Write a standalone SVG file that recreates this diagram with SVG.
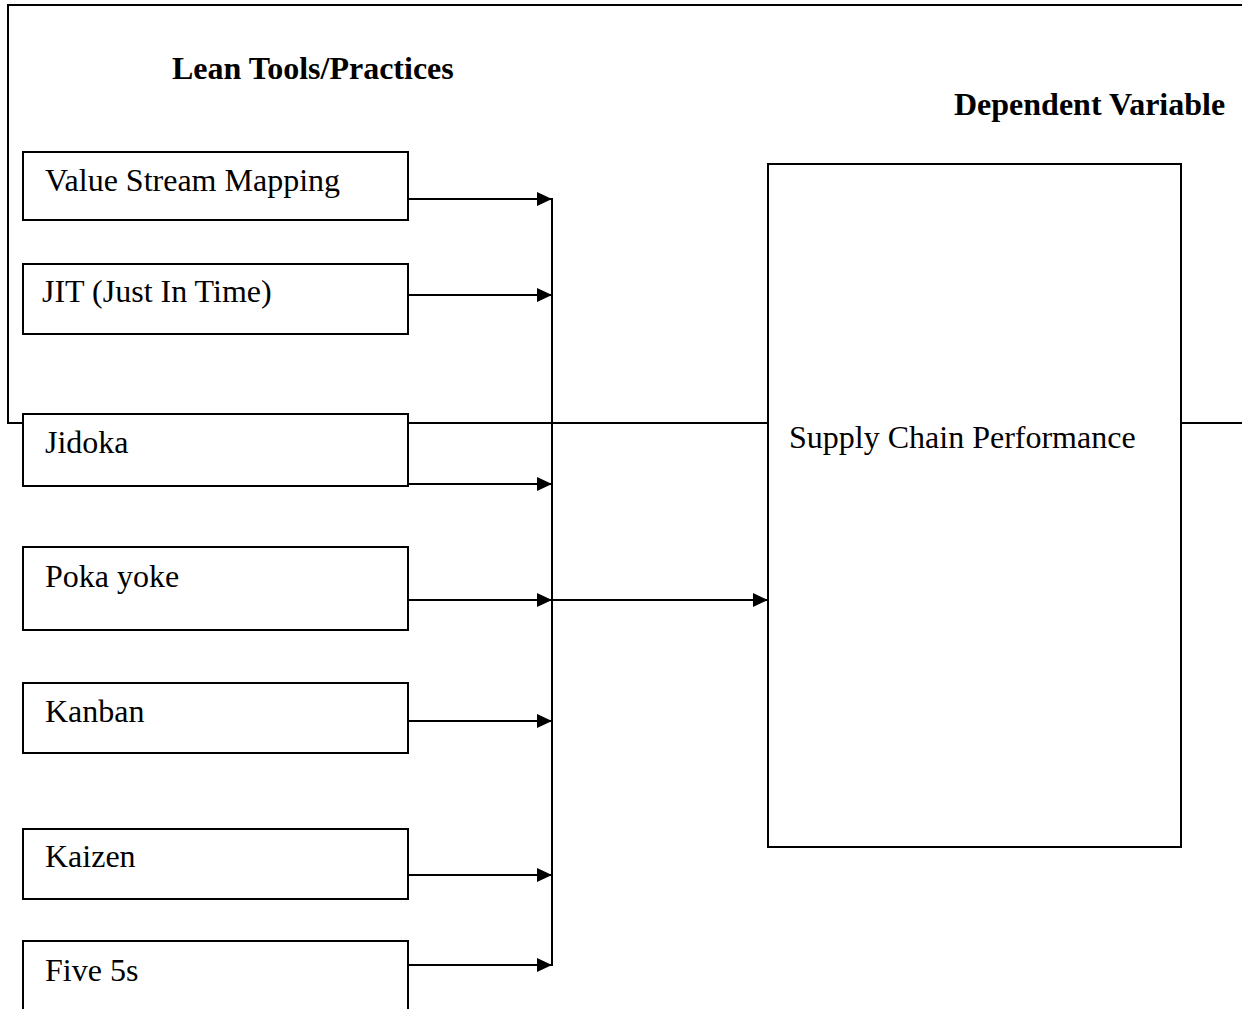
<svg xmlns="http://www.w3.org/2000/svg" width="1242" height="1009" viewBox="0 0 1242 1009">
  <style>
    .box { fill: #ffffff; stroke: #000000; stroke-width: 2; }
    .lbl { font-family: "Liberation Serif", "Times New Roman", serif; font-size: 32px; fill: #000000; }
    .hdr { font-family: "Liberation Serif", "Times New Roman", serif; font-size: 32px; font-weight: bold; fill: #000000; }
    .conn { stroke: #000000; stroke-width: 2; fill: none; }
    .arr { marker-end: url(#ah); }
  </style>
  <defs>
    <marker id="ah" markerUnits="userSpaceOnUse" markerWidth="16" markerHeight="14" refX="15" refY="7" orient="auto">
      <path d="M0,0 L15,7 L0,14 z" fill="#000000"/>
    </marker>
  </defs>
  <rect x="0" y="0" width="1242" height="1009" fill="#ffffff"/>

  <g id="frame">
    <path class="conn" d="M1242,5 H8 V423 H1242"/>
  </g>

  <g id="headers">
    <text class="hdr" x="172" y="79">Lean Tools/Practices</text>
    <text class="hdr" x="954" y="115">Dependent Variable</text>
  </g>

  <g id="connectors">
    <line class="conn" x1="552" y1="198" x2="552" y2="966"/>
    <line class="conn arr" x1="408" y1="199" x2="552" y2="199"/>
    <line class="conn arr" x1="408" y1="295" x2="552" y2="295"/>
    <line class="conn arr" x1="408" y1="484" x2="552" y2="484"/>
    <line class="conn arr" x1="408" y1="600" x2="552" y2="600"/>
    <line class="conn arr" x1="408" y1="721" x2="552" y2="721"/>
    <line class="conn arr" x1="408" y1="875" x2="552" y2="875"/>
    <line class="conn arr" x1="408" y1="965" x2="552" y2="965"/>
    <line class="conn arr" x1="552" y1="600" x2="768" y2="600"/>
  </g>

  <g id="node-vsm">
    <rect class="box" x="23" y="152" width="385" height="68"/>
    <text class="lbl" x="45" y="191">Value Stream Mapping</text>
  </g>
  <g id="node-jit">
    <rect class="box" x="23" y="264" width="385" height="70"/>
    <text class="lbl" x="42" y="302">JIT (Just In Time)</text>
  </g>
  <g id="node-jidoka">
    <rect class="box" x="23" y="414" width="385" height="72"/>
    <text class="lbl" x="45" y="453">Jidoka</text>
  </g>
  <g id="node-pokayoke">
    <rect class="box" x="23" y="547" width="385" height="83"/>
    <text class="lbl" x="45" y="587">Poka yoke</text>
  </g>
  <g id="node-kanban">
    <rect class="box" x="23" y="683" width="385" height="70"/>
    <text class="lbl" x="45" y="722">Kanban</text>
  </g>
  <g id="node-kaizen">
    <rect class="box" x="23" y="829" width="385" height="70"/>
    <text class="lbl" x="45" y="867">Kaizen</text>
  </g>
  <g id="node-five5s">
    <rect class="box" x="23" y="941" width="385" height="80"/>
    <text class="lbl" x="45" y="981">Five 5s</text>
  </g>
  <g id="node-scp">
    <rect class="box" x="768" y="164" width="413" height="683"/>
    <text class="lbl" x="789" y="448">Supply Chain Performance</text>
  </g>
</svg>
